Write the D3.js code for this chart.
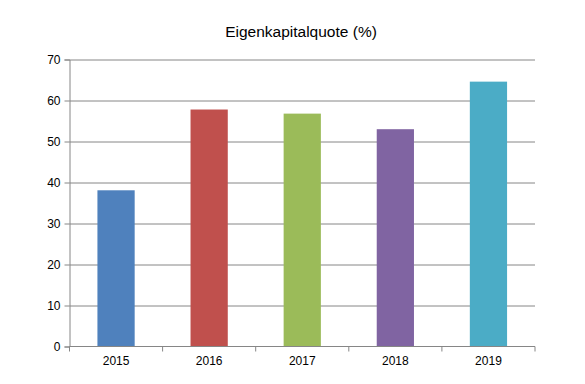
<!DOCTYPE html>
<html>
<head>
<meta charset="utf-8">
<script src="https://cdn.jsdelivr.net/npm/d3@7"></script>
<style>
  body { margin: 0; background: #fff; }
  text { font-family: "Liberation Sans", Arial, sans-serif; fill: #000; }
</style>
</head>
<body>
<svg id="chart"></svg>
<script>
const years = ['2015', '2016', '2017', '2018', '2019'];
const values = [38.1, 57.8, 56.8, 53.0, 64.6];
const colors = ['#4F81BD', '#C0504D', '#9BBB59', '#8064A2', '#4BACC6'];
const yTicks = [0, 10, 20, 30, 40, 50, 60, 70];
const title = 'Eigenkapitalquote (%)';

const WIDTH = 585;
const HEIGHT = 384;
const margin = {top: 59.5, right: 50, bottom: 37.5, left: 69.5},
  width = WIDTH - margin.left - margin.right,
  height = HEIGHT - margin.top - margin.bottom;

const svg = d3.select('#chart')
  .attr('width', WIDTH)
  .attr('height', HEIGHT);

svg.append('text')
  .attr('x', 301)
  .attr('y', 37)
  .attr('text-anchor', 'middle')
  .style('font-size', '15.5px')
  .text(title);

const g = svg.append('g')
  .attr('transform', `translate(${margin.left},${margin.top})`);

const x = d3.scaleBand()
  .domain(years)
  .range([0, width]);
const y = d3.scaleLinear()
  .domain([0, 70])
  .range([height, 0]);

// grid lines
g.selectAll('.grid')
  .data(yTicks.filter(t => t > 0))
  .enter().append('line')
  .attr('class', 'grid')
  .attr('x1', 0)
  .attr('x2', width)
  .attr('y1', d => Math.round(y(d)) + 0.5)
  .attr('y2', d => Math.round(y(d)) + 0.5)
  .attr('stroke', '#868686');

// bars
const barW = x.bandwidth() * 0.4;
g.selectAll('.bar')
  .data(years)
  .enter().append('rect')
  .attr('class', 'bar')
  .attr('x', d => x(d) + (x.bandwidth() - barW) / 2)
  .attr('width', barW)
  .attr('y', (d, i) => y(values[i]))
  .attr('height', (d, i) => height - y(values[i]))
  .attr('fill', (d, i) => colors[i]);

// y axis
const yAxis = d3.axisLeft(y)
  .tickValues(yTicks)
  .tickSize(5)
  .tickPadding(4);
const yg = g.append('g').call(yAxis);
yg.select('.domain').attr('stroke', '#868686');
yg.selectAll('.tick line').attr('stroke', '#868686');
yg.selectAll('.tick text').style('font-size', '12px').attr('fill', '#000');

// x axis
const xAxis = d3.axisBottom(x)
  .tickSize(0)
  .tickPadding(10);
const xg = g.append('g')
  .attr('transform', `translate(0,${height})`)
  .call(xAxis);
xg.select('.domain').attr('d', `M0,0H${width}`).attr('stroke', '#868686');
xg.selectAll('.tick text').style('font-size', '12px').attr('fill', '#000');
xg.selectAll('.sep')
  .data(years.concat(['end']))
  .enter().append('line')
  .attr('class', 'sep')
  .attr('x1', (d, i) => i * x.step())
  .attr('x2', (d, i) => i * x.step())
  .attr('y1', 0)
  .attr('y2', 5)
  .attr('stroke', '#868686');
</script>
</body>
</html>
